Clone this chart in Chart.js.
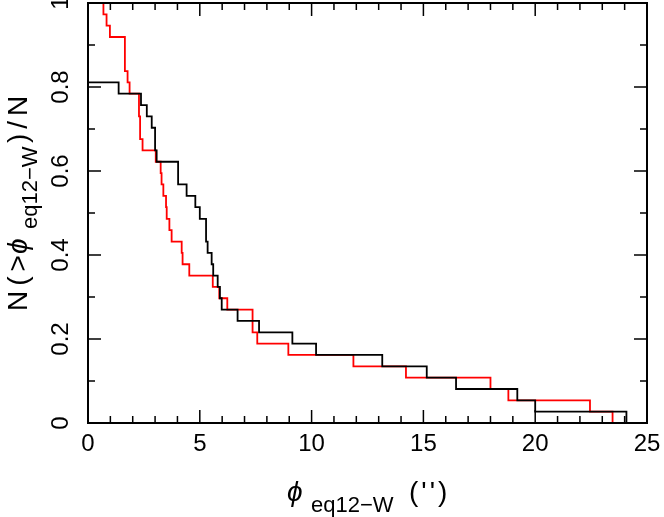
<!DOCTYPE html>
<html>
<head>
<meta charset="utf-8">
<script src="https://cdn.jsdelivr.net/npm/chart.js@4"></script>
<style>
  html, body { margin: 0; padding: 0; background: #fff; }
  canvas { display: block; }
</style>
</head>
<body>
<canvas id="chart" width="664" height="517"></canvas>
<script>
// step positions (arcsec) and cumulative fraction after each step
const blackX = [0, 1.37, 2.37, 2.63, 2.85, 3.0, 3.07, 4.03, 4.41, 4.8, 5.0, 5.28, 5.35, 5.53, 5.6, 5.8, 5.9, 5.98, 6.69, 7.65, 9.14, 10.2, 13.16, 15.15, 16.46, 19.2, 20.0, 24.08];
const blackY = [0.811, 0.784, 0.757, 0.730, 0.703, 0.649, 0.622, 0.568, 0.541, 0.514, 0.486, 0.432, 0.405, 0.378, 0.351, 0.324, 0.297, 0.270, 0.243, 0.216, 0.189, 0.162, 0.135, 0.108, 0.081, 0.054, 0.027, 0];

const redX = [0, 0.69, 0.83, 0.98, 1.65, 1.77, 1.86, 2.28, 2.33, 2.44, 3.03, 3.25, 3.29, 3.37, 3.49, 3.52, 3.64, 3.74, 4.19, 4.23, 4.53, 5.58, 5.87, 6.23, 7.36, 7.57, 8.96, 11.87, 14.22, 18.0, 18.8, 22.45, 23.46];
const redY = [1, 0.973, 0.946, 0.919, 0.838, 0.811, 0.784, 0.730, 0.676, 0.649, 0.622, 0.595, 0.568, 0.541, 0.514, 0.486, 0.459, 0.432, 0.405, 0.378, 0.351, 0.324, 0.297, 0.270, 0.216, 0.189, 0.162, 0.135, 0.108, 0.081, 0.054, 0.027, 0];

const xTicks = [0, 5, 10, 15, 20, 25];
const xMinorTicks = [1, 2, 3, 4, 6, 7, 8, 9, 11, 12, 13, 14, 16, 17, 18, 19, 21, 22, 23, 24];
const yTicks = [0, 0.2, 0.4, 0.6, 0.8, 1];
const yTickLabels = ['0', '0.2', '0.4', '0.6', '0.8', '1'];
const yMinorTicks = [0.1, 0.3, 0.5, 0.7, 0.9];

function toPoints(xs, ys) {
    return xs.map((x, i) => ({ x: x, y: ys[i] }));
}

const FONT = '"Liberation Sans", Arial, sans-serif';

// frame, inward ticks on all four sides, tick labels and axis titles
const framePlugin = {
    id: 'frame',
    afterDraw(chart) {
        const ctx = chart.ctx;
        const a = chart.chartArea;
        const xs = chart.scales.x;
        const ys = chart.scales.y;
        ctx.save();
        ctx.strokeStyle = '#000';
        ctx.lineWidth = 2;
        ctx.strokeRect(a.left, a.top, a.right - a.left, a.bottom - a.top);

        ctx.lineWidth = 1.5;
        ctx.beginPath();
        const tickX = (v, len) => {
            const p = xs.getPixelForValue(v);
            ctx.moveTo(p, a.bottom); ctx.lineTo(p, a.bottom - len);
            ctx.moveTo(p, a.top); ctx.lineTo(p, a.top + len);
        };
        const tickY = (v, len) => {
            const p = ys.getPixelForValue(v);
            ctx.moveTo(a.left, p); ctx.lineTo(a.left + len, p);
            ctx.moveTo(a.right, p); ctx.lineTo(a.right - len, p);
        };
        xTicks.forEach(v => tickX(v, 13));
        xMinorTicks.forEach(v => tickX(v, 7));
        yTicks.forEach(v => tickY(v, 13));
        yMinorTicks.forEach(v => tickY(v, 7));
        ctx.stroke();

        ctx.fillStyle = '#000';
        ctx.font = '24px ' + FONT;
        ctx.textAlign = 'center';
        ctx.textBaseline = 'alphabetic';
        xTicks.forEach(v => {
            ctx.fillText(String(v), xs.getPixelForValue(v), 451);
        });
        yTicks.forEach((v, i) => {
            ctx.save();
            ctx.translate(68, ys.getPixelForValue(v));
            ctx.rotate(-Math.PI / 2);
            ctx.fillText(yTickLabels[i], 0, 0);
            ctx.restore();
        });

        // x axis title
        ctx.textAlign = 'left';
        ctx.font = 'italic 28px ' + FONT;
        ctx.fillText('\u03D5', 287, 501);
        ctx.font = '22px ' + FONT;
        ctx.fillText('eq12\u2212W', 311, 512);
        ctx.font = '28px ' + FONT;
        ctx.letterSpacing = '3px';
        ctx.fillText("('')", 409, 501);
        ctx.letterSpacing = '0px';

        // y axis title (reads bottom to top)
        ctx.save();
        ctx.translate(27, 0);
        ctx.rotate(-Math.PI / 2);
        ctx.font = '28px ' + FONT;
        ctx.letterSpacing = '5px';
        ctx.fillText('N(>', -311, 0);
        ctx.font = 'italic 28px ' + FONT;
        ctx.fillText('\u03D5', -254, 0);
        ctx.letterSpacing = '0px';
        ctx.font = '22px ' + FONT;
        ctx.fillText('eq12\u2212W', -229, 10);
        ctx.font = '28px ' + FONT;
        ctx.letterSpacing = '5px';
        ctx.fillText(')/N', -143, 0);
        ctx.restore();

        ctx.restore();
    }
};

new Chart(document.getElementById('chart'), {
    type: 'line',
    data: {
        datasets: [
            {
                data: toPoints(blackX, blackY),
                borderColor: '#000000',
                borderWidth: 1.8,
                stepped: 'before',
                pointRadius: 0,
                fill: false
            },
            {
                data: toPoints(redX, redY),
                borderColor: '#ff0000',
                borderWidth: 1.8,
                stepped: 'before',
                pointRadius: 0,
                fill: false
            }
        ]
    },
    options: {
        responsive: false,
        animation: false,
        layout: { padding: { left: 88, right: 17, top: 3, bottom: 94 } },
        plugins: { legend: { display: false }, tooltip: { enabled: false } },
        scales: {
            x: { type: 'linear', min: 0, max: 25, display: false },
            y: { type: 'linear', min: 0, max: 1, display: false }
        }
    },
    plugins: [framePlugin]
});
</script>
</body>
</html>
